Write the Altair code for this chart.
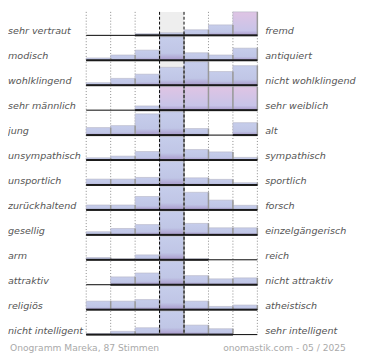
import altair as alt
import pandas as pd

# ---- data (bar heights in pixels of a 24px-high row; > 24 means clipped) ----
left_labels = ["sehr vertraut", "modisch", "wohlklingend", "sehr männlich", "\u00a0jung",
               "unsympathisch", "unsportlich", "zurückhaltend", "gesellig", "arm",
               "attraktiv", "religiös", "nicht intelligent"]
right_labels = ["fremd", "antiquiert", "nicht wohlklingend", "sehr weiblich", "alt",
                "sympathisch", "sportlich", "forsch", "einzelgängerisch", "reich",
                "nicht attraktiv", "atheistisch", "sehr intelligent"]

r_vertraut = [0, 0, 1.7, 2.7, 5.7, 10.7, 30]
r_modisch = [2.4, 5.4, 10.4, 24, 7.7, 5.4, 12.4]
r_wohlkl = [2.6, 7, 11.3, 18.3, 24, 14, 20]
r_maennl = [0, 0, 4.3, 28, 28, 28, 28]
r_jung = [7.7, 9.7, 21.7, 24, 6.7, 0, 12.7]
r_unsymp = [2.3, 4, 8.7, 24, 10.7, 8.3, 2.7]
r_unsport = [6, 6, 7.7, 24, 7.3, 5.7, 2.3]
r_zurueck = [5, 5, 13.7, 24, 18, 10, 4.7]
r_gesellig = [3.2, 6.5, 10.5, 24, 11.7, 7.2, 7.2]
r_arm = [2.3, 1, 5, 24, 1, 0, 0]
r_attraktiv = [0, 8, 12, 24, 9.3, 6, 7]
r_religioes = [8.7, 8.7, 10.3, 24, 8.7, 3.3, 4.7]
r_intell = [1, 3.3, 7, 24, 9.7, 6, 0]

rows = [r_vertraut, r_modisch, r_wohlkl, r_maennl, r_jung, r_unsymp, r_unsport,
        r_zurueck, r_gesellig, r_arm, r_attraktiv, r_religioes, r_intell]

footer_left = "Onogramm Mareka, 87 Stimmen"
footer_right = "onomastik.com - 05 / 2025"

CAP = 24.0
PITCH = 25.5
BAR_H = 24.0 / PITCH
W, H = 362, 352

recs = []
for r, row in enumerate(rows):
    for c, val in enumerate(row):
        v = min(val / CAP, 1.0)
        recs.append({"r": r, "c": c, "c2": c + 1, "top": r - v * BAR_H,
                     "val": val, "clipped": val > CAP})
bars = pd.DataFrame(recs)
bars_nz = bars[bars["val"] > 0]

labels = pd.DataFrame({"r": list(range(len(rows))), "left": left_labels, "right": right_labels})
labels["ty"] = labels["r"] - 1.0 / PITCH

n = len(rows)
ymin = -24.0 / PITCH
ymax = (H - 24.0) / PITCH
xmin = -80.0 / 25.0
xmax = (W - 80.0) / 25.0

xs = alt.Scale(domain=[xmin, xmax], nice=False, zero=False)
ys = alt.Scale(domain=[ymin, ymax], nice=False, zero=False, reverse=True)

def X(f):
    return alt.X(f, type="quantitative", scale=xs, axis=None)

def Y(f):
    return alt.Y(f, type="quantitative", scale=ys, axis=None)

center = pd.DataFrame({"c": [3], "c2": [4], "y": [ymin], "y2": [n - 1]})
bg = alt.Chart(center).mark_rect(fill="#eeeeee").encode(
    x=X("c"), x2="c2", y=Y("y"), y2="y2")

grid = pd.DataFrame({"c": [0, 1, 2, 5, 6, 7], "y": ymin, "y2": n - 1})
dotted = alt.Chart(grid).mark_rule(color="#888888", strokeWidth=1, strokeDash=[1, 2]).encode(
    x=X("c"), y=Y("y"), y2="y2")

blue_grad = alt.Gradient(gradient="linear", x1=0, x2=0, y1=0, y2=1, stops=[
    alt.GradientStop(color="#c6cdeb", offset=0),
    alt.GradientStop(color="#c0c6e6", offset=0.7),
    alt.GradientStop(color="#a898ca", offset=1)])
pink_grad = alt.Gradient(gradient="linear", x1=0, x2=0, y1=0, y2=1, stops=[
    alt.GradientStop(color="#dfc4e4", offset=0),
    alt.GradientStop(color="#c8c4e8", offset=0.8),
    alt.GradientStop(color="#a898ca", offset=1)])

blue_bars = alt.Chart(bars_nz[~bars_nz["clipped"]]).mark_rect(
    fill=blue_grad, stroke="#b4b4c4", strokeWidth=0.6).encode(
    x=X("c"), x2="c2", y=Y("top"), y2="r")
pink_bars = alt.Chart(bars_nz[bars_nz["clipped"]]).mark_rect(
    fill=pink_grad, stroke="#b4b4c4", strokeWidth=0.6).encode(
    x=X("c"), x2="c2", y=Y("top"), y2="r")

edges = alt.Chart(bars_nz).mark_rule(color="#999999", strokeWidth=1.5).encode(
    x=X("c2"), y=Y("top"), y2="r")

base_df = pd.DataFrame({"r": list(range(n)), "x0": 0, "x1": 7})
baseline = alt.Chart(base_df).mark_rule(color="#000000", strokeWidth=1).encode(
    x=X("x0"), x2="x1", y=Y("r"))
thick = alt.Chart(bars_nz).mark_rule(color="#1a1a1a", strokeWidth=2).encode(
    x=X("c"), x2="c2", y=Y("r"))

dgrid = pd.DataFrame({"c": [3, 4], "y": ymin, "y2": n - 1})
dashed = alt.Chart(dgrid).mark_rule(color="#000000", strokeWidth=1, strokeDash=[3, 2]).encode(
    x=X("c"), y=Y("y"), y2="y2")

labels["xl"] = xmin
labels["xr"] = (263.0 - 80.0) / 25.0
ltxt = alt.Chart(labels).mark_text(align="left", baseline="alphabetic", font="DejaVu Sans",
                                   fontStyle="italic", fontSize=9.8, color="#555555").encode(
    x=X("xl"), y=Y("ty"), text="left:N")
rtxt = alt.Chart(labels).mark_text(align="left", baseline="alphabetic", font="DejaVu Sans",
                                   fontStyle="italic", fontSize=9.8, color="#555555").encode(
    x=X("xr"), y=Y("ty"), text="right:N")

foot = pd.DataFrame({"x": [(2.0 - 80.0) / 25.0, (220.0 - 80.0) / 25.0],
                     "y": [(H - 5.0 - 24.0) / PITCH] * 2,
                     "t": [footer_left, footer_right]})
ftxt = alt.Chart(foot).mark_text(align="left", baseline="alphabetic", font="DejaVu Sans",
                                 fontSize=9.35, color="#aaaaaa").encode(
    x=X("x"), y=Y("y"), text="t:N")

chart = alt.layer(bg, dotted, blue_bars, pink_bars, edges, baseline, thick, dashed,
                  ltxt, rtxt, ftxt).properties(
    width=W, height=H, padding=0,
    autosize=alt.AutoSizeParams(type="none")
).configure_view(stroke=None)

chart.save("out.html", embed_options={"renderer": "svg", "actions": False})
